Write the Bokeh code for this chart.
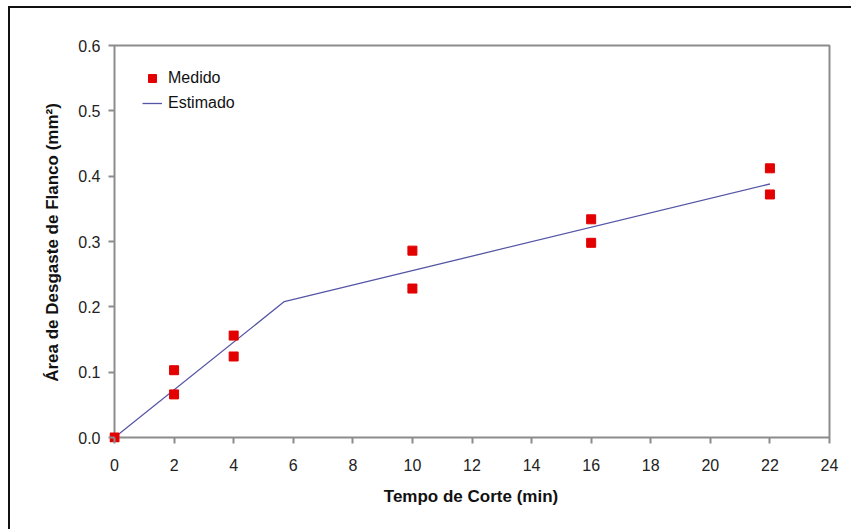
from bokeh.plotting import figure
from bokeh.models import Range1d, FixedTicker, NumeralTickFormatter, Legend, LegendItem, ColumnDataSource
from bokeh.embed import file_html
from bokeh.resources import INLINE

# Measured data (Medido)
tempo_medido = [0, 2, 2, 4, 4, 10, 10, 16, 16, 22, 22]
area_medido = [0.0, 0.103, 0.066, 0.156, 0.124, 0.286, 0.228, 0.334, 0.298, 0.412, 0.372]

# Estimated curve (Estimado)
tempo_estimado = [0, 5.7, 22]
area_estimado = [0.0, 0.208, 0.388]

x_ticks = [0, 2, 4, 6, 8, 10, 12, 14, 16, 18, 20, 22, 24]
y_ticks = [0.0, 0.1, 0.2, 0.3, 0.4, 0.5, 0.6]

FONT = "Liberation Sans"
AXIS_GRAY = "#8c8c8c"
RED = "#e20000"

x0, x1 = x_ticks[0], x_ticks[-1]
y0, y1 = y_ticks[0], y_ticks[-1]
# small padding so the marker at the origin is not clipped by the frame
px_x = (x1 - x0) / 715.0
px_y = (y1 - y0) / 392.0

p = figure(width=843, height=523, output_backend="svg", toolbar_location=None,
           x_range=Range1d(x0 - 5 * px_x, x1 + 3 * px_x),
           y_range=Range1d(y0 - 5 * px_y, y1 + 3 * px_y),
           min_border_left=99, min_border_top=34, min_border_right=21, min_border_bottom=89,
           styles={"margin-left": "8px", "margin-top": "6px",
                   "border-top": "2px solid #111", "border-left": "2px solid #111"})

p.grid.visible = False
p.outline_line_color = None
p.background_fill_color = "white"
p.border_fill_color = "white"

for ax in (p.xaxis[0], p.yaxis[0]):
    ax.axis_line_color = None
    ax.major_tick_line_color = AXIS_GRAY
    ax.major_tick_line_width = 2
    ax.major_tick_out = 1
    ax.major_tick_in = 5
    ax.minor_tick_line_color = None
    ax.major_label_text_font = FONT
    ax.major_label_text_font_size = "16px"
    ax.major_label_text_color = "#222222"
    ax.axis_label_text_font = FONT
    ax.axis_label_text_font_size = "17px"
    ax.axis_label_text_font_style = "bold"
    ax.axis_label_text_color = "#111111"

p.xaxis.ticker = FixedTicker(ticks=x_ticks)
p.yaxis.ticker = FixedTicker(ticks=y_ticks)
p.yaxis.formatter = NumeralTickFormatter(format="0.0")
p.xaxis.axis_label = "Tempo de Corte (min)"
p.yaxis.axis_label = "Área de Desgaste de Flanco (mm²)"
p.xaxis.major_label_standoff = 15
p.yaxis.major_label_standoff = 8
p.xaxis.axis_label_standoff = 13
p.yaxis.axis_label_standoff = 13

# plot box (axes lines at 0 plus top and right sides)
p.line([x0, x1, x1, x0, x0], [y0, y0, y1, y1, y0], line_color=AXIS_GRAY, line_width=2)

src_e = ColumnDataSource(dict(x=tempo_estimado, y=area_estimado))
src_m = ColumnDataSource(dict(x=tempo_medido, y=area_medido))
r_line = p.line("x", "y", source=src_e, line_color="#5656a6", line_width=1.3)
r_pts = p.scatter("x", "y", source=src_m, marker="square", size=9,
                  fill_color=RED, line_color=RED)

legend = Legend(items=[LegendItem(label="Medido", renderers=[r_pts]),
                       LegendItem(label="Estimado", renderers=[r_line])],
                location=(33, 329), orientation="vertical",
                border_line_color=None, background_fill_alpha=0,
                padding=0, margin=0, spacing=5,
                glyph_width=20, glyph_height=20, label_height=20,
                label_standoff=6, label_text_font=FONT, label_text_font_size="16px",
                label_text_color="#111111")
p.add_layout(legend)

open("out.html", "w").write(file_html(p, INLINE))
